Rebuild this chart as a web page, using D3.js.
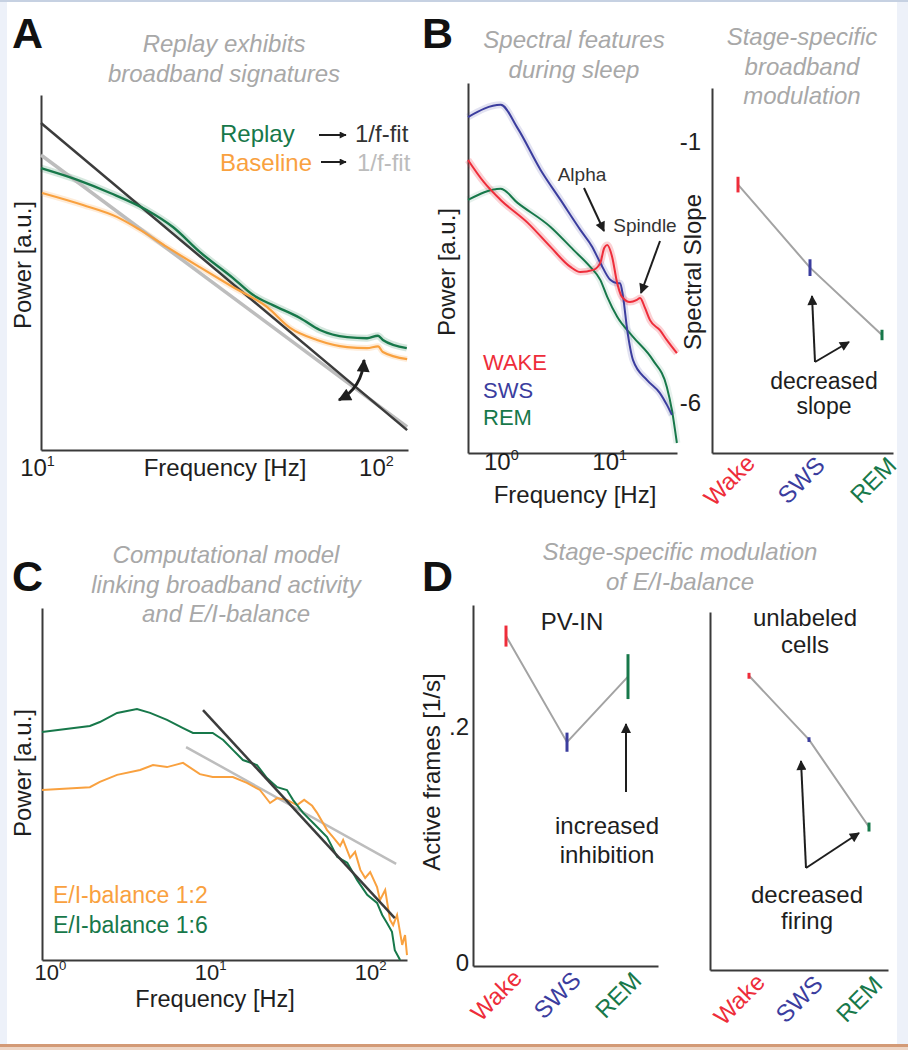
<!DOCTYPE html>
<html><head><meta charset="utf-8">
<script src="https://cdn.jsdelivr.net/npm/d3@7"></script>
<style>
body{margin:0;background:#fff}
svg{display:block}
text{font-family:"Liberation Sans",Arial,Helvetica,sans-serif}
</style>
</head><body>
<svg id="fig" width="908" height="1050"></svg>
<script>
// ---------------- DATA ----------------
// Panel A
const aReplayFreq = [10, 12.8, 16.0, 20.5, 24.5, 29.4, 36.8, 42.2, 48.3, 58.1, 66.5, 80.0, 91.6, 98.7, 102, 120];
const aReplayPow  = [7.94, 7.61, 7.24, 6.76, 6.28, 5.58, 4.85, 4.37, 4.08, 3.72, 3.38, 3.18, 3.15, 3.22, 3.10, 2.87];
const aBaseFreq = [10.07, 13.3, 16.8, 19.6, 23.5, 29.4, 36.8, 46.4, 54.3, 65.2, 80.0, 91.6, 98.7, 102, 120.3];
const aBasePow  = [7.24, 6.90, 6.56, 6.20, 5.72, 5.15, 4.59, 4.03, 3.44, 3.10, 2.90, 2.87, 2.92, 2.76, 2.56];
const aFitReplayFreq = [10, 120.3];
const aFitReplayPow  = [9.21, 0.56];
const aFitBaseFreq = [10, 120.3];
const aFitBasePow  = [8.31, 0.65];
const aTicks = [10, 100];

// Panel B (left)
const bWakeFreq = [0.52, 0.729, 1.04, 1.85, 3.00, 4.58, 5.65, 7.44, 8.63, 9.38, 10.0, 11.1, 12.36, 13.7, 16.2, 18.8, 20.1, 22.3, 24.8, 30.6, 35.5, 43.9];
const bWakePow  = [7.92, 7.32, 6.84, 6.22, 5.57, 5.03, 4.89, 4.95, 5.14, 5.54, 5.62, 5.30, 4.59, 4.22, 4.08, 4.14, 4.19, 3.92, 3.59, 3.32, 3.05, 2.70];
const bSwsFreq = [0.52, 1.04, 1.49, 2.43, 3.71, 5.65, 7.28, 8.63, 10.66, 12.36, 13.16, 14.0, 15.3, 17.3, 23.3, 30.6, 35.5, 39.5];
const bSwsPow  = [9.08, 9.41, 8.78, 7.65, 6.84, 6.03, 5.57, 5.14, 4.68, 4.59, 4.59, 4.22, 3.32, 2.51, 1.97, 1.62, 1.30, 1.03];
const bRemFreq = [0.52, 1.04, 1.49, 3.00, 4.88, 6.98, 8.63, 10.0, 12.36, 17.3, 26.4, 35.5, 39.5, 43.9];
const bRemPow  = [6.84, 7.14, 6.76, 6.11, 5.49, 5.03, 4.68, 4.22, 3.68, 3.14, 2.51, 1.78, 1.16, 0.27];
const bTicks = [1, 10];
const bLegend = ["WAKE", "SWS", "REM"];

// Panel B (right) spectral slope
const stages = ["Wake", "SWS", "REM"];
const slopeMean = [-1.82, -3.41, -4.70];
const slopeErr  = [0.15, 0.16, 0.10];
const slopeTicks = [-1, -6];

// Panel C
const cBal2Freq = [0.944, 1.88, 2.17, 2.78, 3.87, 4.66, 5.70, 7.18, 9.15, 11.0, 14.7, 18.0, 21.7, 25.1, 27.8, 32.0, 37.0, 41.0, 46.0, 49.4, 57.0, 62.1, 68.8, 71.8, 79.4, 85.3, 92.0, 98.6, 106, 117, 122, 131.5, 141, 147.5, 156, 168, 175, 180];
const cBal2Pow  = [4.83, 4.91, 5.06, 5.26, 5.40, 5.54, 5.48, 5.60, 5.28, 5.20, 5.20, 5.03, 4.83, 4.46, 4.60, 4.55, 4.40, 4.55, 4.38, 4.18, 3.69, 3.49, 3.24, 3.41, 2.90, 3.07, 2.56, 2.33, 2.50, 2.07, 1.70, 1.99, 1.14, 0.99, 1.28, 0.43, 0.71, 0.14];
const cBal6Freq = [0.944, 1.88, 2.17, 2.78, 3.70, 4.47, 5.70, 7.18, 8.28, 11.0, 12.8, 14.7, 17.0, 20.8, 24.0, 27.8, 32.0, 34.9, 40.4, 46.7, 57.0, 65.9, 76.2, 87.9, 101.5, 117, 126, 135, 145, 151, 163];
const cBal6Pow  = [6.48, 6.65, 6.76, 7.02, 7.13, 7.02, 6.82, 6.59, 6.45, 6.45, 6.25, 5.97, 5.68, 5.54, 5.17, 4.91, 4.83, 4.55, 4.18, 3.89, 3.49, 2.93, 2.76, 2.27, 1.85, 1.62, 1.28, 1.05, 0.80, 0.28, 0.0];
const cFit6Freq = [9.57, 151];
const cFit6Pow  = [7.10, 1.19];
const cFit2Freq = [7.50, 154];
const cFit2Pow  = [6.05, 2.73];
const cTicks = [1, 10, 100];
const cLegend = ["E/I-balance 1:2", "E/I-balance 1:6"];

// Panel D
const pvMean = [0.2767, 0.1869, 0.2424];
const pvErr  = [0.0089, 0.0081, 0.0190];
const pvTicks = [0, 0.2];
const unlMean = [0.249, 0.195, 0.121];
const unlErr  = [0.0025, 0.0020, 0.0038];

// ---------------- STYLE ----------------
const RED = "#ee2d3a", BLUE = "#3b3d9e", GREEN = "#17784a", ORANGE = "#f9a13f";
const DARKFIT = "#3c3c3c", LIGHTFIT = "#bdbdbd", TITLE = "#a8a8a8", INK = "#1e1e1e", AXIS = "#3a3a3a";
const stageColor = {Wake: RED, SWS: BLUE, REM: GREEN};

const svg = d3.select("#fig");

// frame
svg.append("rect").attr("width", 908).attr("height", 1050).attr("fill", "#edf1f9");
svg.append("rect").attr("x", 7).attr("y", 2).attr("width", 890).attr("height", 1042).attr("fill", "#fff");
svg.append("rect").attr("x", 0).attr("y", 0).attr("width", 908).attr("height", 2).attr("fill", "#c6d1e2");
svg.append("rect").attr("x", 0).attr("y", 1044).attr("width", 908).attr("height", 3).attr("fill", "#d39a76");
svg.append("rect").attr("x", 0).attr("y", 1047).attr("width", 908).attr("height", 3).attr("fill", "#eed6c6");

// markers
const defs = svg.append("defs");
function marker(id, w, h) {
  defs.append("marker").attr("id", id).attr("viewBox", "0 0 10 10")
    .attr("refX", 9).attr("refY", 5).attr("markerUnits", "userSpaceOnUse")
    .attr("markerWidth", w).attr("markerHeight", h).attr("orient", "auto-start-reverse")
    .append("path").attr("d", "M0,0L10,5L0,10Z").attr("fill", INK);
}
marker("arr", 13, 10);
marker("arrS", 10, 7);
marker("arrB", 16, 13);

function text(x, y, s, o = {}) {
  const t = svg.append("text").attr("x", x).attr("y", y).text(s)
    .attr("font-size", o.size || 24).attr("fill", o.fill || INK)
    .attr("text-anchor", o.anchor || "start");
  if (o.italic) t.attr("font-style", "italic");
  if (o.bold) t.attr("font-weight", "bold");
  return t;
}
function title(cx, y0, lines) {
  lines.forEach((l, i) => text(cx, y0 + i * 29.5, l, {anchor: "middle", italic: true, fill: TITLE, size: 24}));
}
function vlabel(x, cy, s) {
  svg.append("text").attr("transform", `translate(${x},${cy}) rotate(-90)`)
    .attr("text-anchor", "middle").attr("font-size", 24).attr("fill", INK).text(s);
}
function styleAxis(g) {
  g.select(".domain").attr("stroke", AXIS).attr("stroke-width", 2);
  g.selectAll(".tick line").remove();
}
function logTickText(g, size, shift) {
  g.selectAll(".tick text").each(function (d) {
    const t = d3.select(this);
    t.text(null).attr("font-size", size).attr("fill", INK).attr("dx", shift).attr("font-family", null);
    t.append("tspan").text("10");
    t.append("tspan").attr("dy", -size * 0.42).attr("font-size", size * 0.6).text(String(Math.round(Math.log10(d))));
  });
}
function arrow(x1, y1, x2, y2, m = "arr", w = 2) {
  svg.append("line").attr("x1", x1).attr("y1", y1).attr("x2", x2).attr("y2", y2)
    .attr("stroke", INK).attr("stroke-width", w).attr("marker-end", `url(#${m})`);
}
function zip(a, b) { return a.map((v, i) => [v, b[i]]); }

// ---------------- PANEL A ----------------
{
  const x = d3.scaleLog().domain([10, 121]).range([41, 408]);
  const y = d3.scaleLinear().domain([0, 10]).range([450, 95]);
  const gx = svg.append("g").attr("transform", "translate(0,450)")
    .call(d3.axisBottom(x).tickValues(aTicks).tickSize(0).tickPadding(9).tickFormat(() => ""));
  styleAxis(gx); logTickText(gx, 24, -4);
  const gy = svg.append("g").attr("transform", "translate(41,0)")
    .call(d3.axisLeft(y).tickValues([]).tickSizeOuter(0));
  styleAxis(gy);

  const lineS = d3.line().x(d => x(d[0])).y(d => y(d[1])).curve(d3.curveMonotoneX);
  const lineL = d3.line().x(d => x(d[0])).y(d => y(d[1]));
  // shading
  svg.append("path").attr("d", lineS(zip(aReplayFreq, aReplayPow))).attr("fill", "none").attr("stroke", GREEN).attr("stroke-opacity", 0.18).attr("stroke-width", 7);
  svg.append("path").attr("d", lineS(zip(aBaseFreq, aBasePow))).attr("fill", "none").attr("stroke", ORANGE).attr("stroke-opacity", 0.2).attr("stroke-width", 6);
  // fits
  svg.append("path").attr("d", lineL(zip(aFitBaseFreq, aFitBasePow))).attr("fill", "none").attr("stroke", LIGHTFIT).attr("stroke-width", 3.5);
  svg.append("path").attr("d", lineL(zip(aFitReplayFreq, aFitReplayPow))).attr("fill", "none").attr("stroke", DARKFIT).attr("stroke-width", 2.5);
  svg.append("path").attr("d", lineS(zip(aBaseFreq, aBasePow))).attr("fill", "none").attr("stroke", ORANGE).attr("stroke-width", 2.2);
  svg.append("path").attr("d", lineS(zip(aReplayFreq, aReplayPow))).attr("fill", "none").attr("stroke", GREEN).attr("stroke-width", 2.4);

  // curved double arrow
  svg.append("path").attr("d", "M339,400 Q362,388 364,360").attr("fill", "none")
    .attr("stroke", INK).attr("stroke-width", 3)
    .attr("marker-start", "url(#arrB)").attr("marker-end", "url(#arrB)");

  // legend
  text(220, 142, "Replay", {fill: GREEN});
  text(220, 171, "Baseline", {fill: ORANGE});
  arrow(319, 135, 346, 135, "arrS", 2);
  arrow(321, 162, 346, 162, "arrS", 2);
  text(355, 142, "1/f-fit", {fill: "#333"});
  text(357, 171, "1/f-fit", {fill: "#bcbcbc"});

  text(225, 476, "Frequency [Hz]", {anchor: "middle"});
  vlabel(31, 265, "Power [a.u.]");
  title(224, 52, ["Replay exhibits", "broadband signatures"]);
  text(12, 48, "A", {size: 43, bold: true, fill: "#111"});
}

// ---------------- PANEL B left ----------------
{
  const x = d3.scaleLog().domain([0.52, 44]).range([468, 677]);
  const y = d3.scaleLinear().domain([0, 10]).range([453, 83]);
  const gx = svg.append("g").attr("transform", "translate(0,453)")
    .call(d3.axisBottom(x).tickValues(bTicks).tickSize(0).tickPadding(0).tickFormat(() => ""));
  styleAxis(gx); logTickText(gx, 24, 2);
  const gy = svg.append("g").attr("transform", "translate(468,0)")
    .call(d3.axisLeft(y).tickValues([]).tickSizeOuter(0));
  styleAxis(gy);

  const line = d3.line().x(d => x(d[0])).y(d => y(d[1])).curve(d3.curveMonotoneX);
  const series = [[bWakeFreq, bWakePow, RED, 0.22], [bSwsFreq, bSwsPow, BLUE, 0.15], [bRemFreq, bRemPow, GREEN, 0.1]];
  series.forEach(s => svg.append("path").attr("d", line(zip(s[0], s[1]))).attr("fill", "none")
    .attr("stroke", s[2]).attr("stroke-opacity", s[3]).attr("stroke-width", 7));
  [series[2], series[1], series[0]].forEach(s => svg.append("path").attr("d", line(zip(s[0], s[1])))
    .attr("fill", "none").attr("stroke", s[2]).attr("stroke-width", 2));

  text(582, 181, "Alpha", {anchor: "middle", size: 19, fill: "#333"});
  arrow(584, 188, 604, 231);
  text(645, 232, "Spindle", {anchor: "middle", size: 19, fill: "#333"});
  arrow(660, 241, 641, 293);

  const lc = [RED, BLUE, GREEN];
  bLegend.forEach((l, i) => text(483, 370 + i * 27.5, l, {size: 22, fill: lc[i]}));

  text(575, 503, "Frequency [Hz]", {anchor: "middle"});
  vlabel(455, 272, "Power [a.u.]");
  title(574, 48, ["Spectral features", "during sleep"]);
  text(422, 48, "B", {size: 43, bold: true, fill: "#111"});
}

// ---------------- PANEL B right ----------------
{
  const x = d3.scalePoint().domain(stages).range([738, 882]);
  const y = d3.scaleLinear().domain([-6.96, 0.03]).range([453, 88]);
  const gx = svg.append("g").attr("transform", "translate(0,453)")
    .call(d3.axisBottom(d3.scaleLinear().range([712, 893])).tickValues([]).tickSizeOuter(0));
  styleAxis(gx);
  const gy = svg.append("g").attr("transform", "translate(712,0)")
    .call(d3.axisLeft(y).tickValues(slopeTicks).tickSize(0).tickPadding(11).tickFormat(d3.format("d")));
  styleAxis(gy);
  gy.selectAll(".tick text").attr("font-size", 24).attr("fill", INK).attr("font-family", null).text(d => String(d));

  const pts = stages.map((s, i) => ({s, m: slopeMean[i], e: slopeErr[i]}));
  svg.append("path").attr("d", d3.line().x(d => x(d.s)).y(d => y(d.m))(pts))
    .attr("fill", "none").attr("stroke", "#a3a3a3").attr("stroke-width", 2);
  svg.selectAll(null).data(pts).join("line")
    .attr("x1", d => x(d.s)).attr("x2", d => x(d.s))
    .attr("y1", d => y(d.m + d.e)).attr("y2", d => y(d.m - d.e))
    .attr("stroke", d => stageColor[d.s]).attr("stroke-width", 3);

  svg.selectAll(null).data(stages).join("text")
    .attr("transform", d => `translate(${x(d) - 9},480) rotate(-45)`)
    .attr("text-anchor", "middle").attr("dominant-baseline", "central")
    .attr("font-size", 24).attr("fill", d => stageColor[d]).text(d => d);

  arrow(815, 362, 812, 296);
  arrow(815, 362, 849, 342);
  text(824, 389, "decreased", {anchor: "middle", size: 23});
  text(824, 414, "slope", {anchor: "middle", size: 23});

  vlabel(701, 272, "Spectral Slope");
  title(802, 45, ["Stage-specific", "broadband", "modulation"]);
}

// ---------------- PANEL C ----------------
{
  const x = d3.scaleLog().domain([0.944, 180]).range([42, 407]);
  const y = d3.scaleLinear().domain([0, 10]).range([960, 608]);
  const gx = svg.append("g").attr("transform", "translate(0,960)")
    .call(d3.axisBottom(x).tickValues(cTicks).tickSize(0).tickPadding(4).tickFormat(() => ""));
  styleAxis(gx); logTickText(gx, 22, 4);
  const gy = svg.append("g").attr("transform", "translate(42,0)")
    .call(d3.axisLeft(y).tickValues([]).tickSizeOuter(0));
  styleAxis(gy);

  const line = d3.line().x(d => x(d[0])).y(d => y(d[1]));
  svg.append("path").attr("d", line(zip(cFit2Freq, cFit2Pow))).attr("fill", "none").attr("stroke", LIGHTFIT).attr("stroke-width", 2.5);
  svg.append("path").attr("d", line(zip(cBal2Freq, cBal2Pow))).attr("fill", "none").attr("stroke", ORANGE).attr("stroke-width", 2);
  svg.append("path").attr("d", line(zip(cBal6Freq, cBal6Pow))).attr("fill", "none").attr("stroke", GREEN).attr("stroke-width", 2);
  svg.append("path").attr("d", line(zip(cFit6Freq, cFit6Pow))).attr("fill", "none").attr("stroke", DARKFIT).attr("stroke-width", 2.5);

  text(53, 903, cLegend[0], {size: 23, fill: ORANGE});
  text(53, 933, cLegend[1], {size: 23, fill: GREEN});

  text(215, 1007, "Frequency [Hz]", {anchor: "middle", size: 23.5});
  vlabel(31, 773, "Power [a.u.]");
  title(226, 563, ["Computational model", "linking broadband activity", "and E/I-balance"]);
  text(12, 591, "C", {size: 43, bold: true, fill: "#111"});
}

// ---------------- PANEL D ----------------
function stagePlot(x0, x1, yBase, yTop, xr, dom, means, errs, ticks, labelY) {
  const x = d3.scalePoint().domain(stages).range(xr);
  const y = d3.scaleLinear().domain(dom).range([yBase, yTop]);
  const gx = svg.append("g").attr("transform", `translate(0,${yBase})`)
    .call(d3.axisBottom(d3.scaleLinear().range([x0, x1])).tickValues([]).tickSizeOuter(0));
  styleAxis(gx);
  const gy = svg.append("g").attr("transform", `translate(${x0},0)`)
    .call(d3.axisLeft(y).tickValues(ticks).tickSize(0).tickPadding(4)
      .tickFormat(d => d === 0 ? "0" : d3.format(".1f")(d).replace(/^0/, "")));
  styleAxis(gy);
  gy.selectAll(".tick text").attr("font-size", 24).attr("fill", INK).attr("font-family", null);

  const pts = stages.map((s, i) => ({s, m: means[i], e: errs[i]}));
  svg.append("path").attr("d", d3.line().x(d => x(d.s)).y(d => y(d.m))(pts))
    .attr("fill", "none").attr("stroke", "#a3a3a3").attr("stroke-width", 2);
  svg.selectAll(null).data(pts).join("line")
    .attr("x1", d => x(d.s)).attr("x2", d => x(d.s))
    .attr("y1", d => y(d.m + d.e)).attr("y2", d => y(d.m - d.e))
    .attr("stroke", d => stageColor[d.s]).attr("stroke-width", 3);
  svg.selectAll(null).data(stages).join("text")
    .attr("transform", d => `translate(${x(d) - 10},${labelY}) rotate(-45)`)
    .attr("text-anchor", "middle").attr("dominant-baseline", "central")
    .attr("font-size", 24).attr("fill", d => stageColor[d]).text(d => d);
}
{
  stagePlot(473, 658, 966, 605, [506, 628], [-0.0025, 0.303], pvMean, pvErr, pvTicks, 995);
  stagePlot(710, 888, 970, 612, [749, 869], [0, 0.303], unlMean, unlErr, [], 999);

  text(572, 630, "PV-IN", {anchor: "middle"});
  arrow(626, 792, 626, 724);
  text(607, 834, "increased", {anchor: "middle"});
  text(607, 863, "inhibition", {anchor: "middle"});

  text(805, 626, "unlabeled", {anchor: "middle"});
  text(805, 653, "cells", {anchor: "middle"});
  arrow(806, 868, 801, 761);
  arrow(806, 868, 859, 833);
  text(807, 903, "decreased", {anchor: "middle"});
  text(807, 929, "firing", {anchor: "middle"});

  vlabel(440, 772, "Active frames [1/s]");
  title(680, 560, ["Stage-specific modulation", "of E/I-balance"]);
  text(422, 591, "D", {size: 43, bold: true, fill: "#111"});
}
</script>
</body></html>
